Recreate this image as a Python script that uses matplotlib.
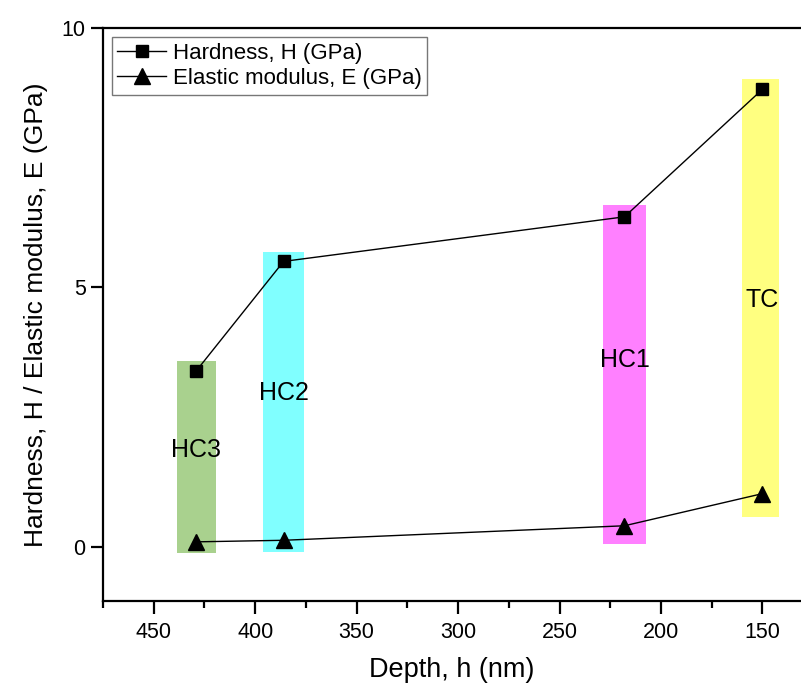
import matplotlib
matplotlib.use("Agg")
import matplotlib.pyplot as plt
from matplotlib.patches import Rectangle
from matplotlib.ticker import MultipleLocator

plt.rcParams['font.family'] = ['Liberation Sans', 'DejaVu Sans']

# data
depth = [429, 386, 218, 150]
hardness = [3.39, 5.50, 6.36, 8.82]
modulus = [0.09, 0.12, 0.40, 1.02]

# shaded layer bands
layers = ['HC3', 'HC2', 'HC1', 'TC']
band_x0 = [438.5, 396, 228.5, 160]
band_x1 = [419.5, 376, 207.5, 142]
band_y0 = [-0.13, -0.10, 0.05, 0.56]
band_y1 = [3.57, 5.69, 6.58, 9.02]
band_colors = ['#a9d18e', '#80ffff', '#ff80ff', '#ffff80']
label_y = [1.86, 2.97, 3.60, 4.76]

fig = plt.figure(figsize=(8.01, 6.86), dpi=100)
ax = fig.add_axes([0.1286, 0.124, 0.8714, 0.835])

for i in range(len(layers)):
    ax.add_patch(Rectangle((band_x1[i], band_y0[i]), band_x0[i] - band_x1[i],
                           band_y1[i] - band_y0[i], facecolor=band_colors[i],
                           edgecolor='none', zorder=1))
    ax.text(depth[i], label_y[i], layers[i], ha='center', va='center',
            fontsize=18, zorder=2)

ax.plot(depth, hardness, color='black', lw=1.0, marker='s', ms=9,
        label='Hardness, H (GPa)', zorder=3)
ax.plot(depth, modulus, color='black', lw=1.0, marker='^', ms=11,
        label='Elastic modulus, E (GPa)', zorder=3)

ax.set_xlim(475, 131)
ax.set_ylim(-1.05, 10)
ax.xaxis.set_major_locator(MultipleLocator(50))
ax.xaxis.set_minor_locator(MultipleLocator(25))
ax.yaxis.set_major_locator(MultipleLocator(5))

for s in ['left', 'bottom', 'top']:
    ax.spines[s].set_linewidth(1.6)
ax.spines['right'].set_visible(False)
ax.tick_params(axis='both', which='major', direction='out', length=9, width=1.6,
               labelsize=15.5)
ax.tick_params(axis='x', which='minor', direction='out', length=5, width=1.6)
ax.tick_params(axis='x', which='major', pad=6)

ax.set_xlabel('Depth, h (nm)', fontsize=19.5, labelpad=10)
ax.set_ylabel('Hardness, H / Elastic modulus, E (GPa)', fontsize=19, labelpad=10)

leg = ax.legend(loc='upper left', fontsize=16, frameon=True, fancybox=False,
                borderaxespad=0.4, handlelength=2.2, handletextpad=0.3,
                borderpad=0.25, labelspacing=0.2)
leg.get_frame().set_edgecolor('#555555')
leg.get_frame().set_linewidth(1.0)

fig.savefig('out.png', dpi=100)
